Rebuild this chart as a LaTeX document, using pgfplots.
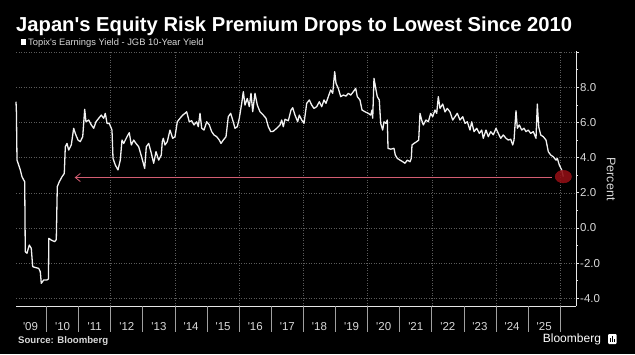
\documentclass[border=0pt]{standalone}
\usepackage{pgfplots}
\pgfplotsset{compat=1.18}
\usepackage{fontspec}
\setmainfont{Liberation Sans}[Ligatures=TeXOff]
\usetikzlibrary{arrows.meta}
\definecolor{axcol}{HTML}{E6E6E6}
\definecolor{labcol}{HTML}{D9D9D9}
\definecolor{gridcol}{HTML}{5C5C5C}
\definecolor{sepcol}{HTML}{A0A0A0}
\definecolor{linecol}{HTML}{F2F2F2}
\definecolor{arrcol}{HTML}{D45D72}
\definecolor{circcol}{HTML}{8E0E14}
\begin{document}
\begin{tikzpicture}
\fill[black] (0,0) rectangle (635pt,354pt);
\begin{axis}[
  at={(16pt,48pt)}, anchor=south west,
  width=560pt, height=254.7pt, scale only axis,
  xmin=2009.047, xmax=2026.492, ymin=-4.44, ymax=10.05,
  axis x line*=bottom, axis y line*=right,
  axis line style={draw=axcol, line width=0.8pt},
  clip=false,
  xtick={2009.5,2010.5,2011.5,2012.5,2013.5,2014.5,2015.5,2016.5,2017.5,2018.5,2019.5,2020.5,2021.5,2022.5,2023.5,2024.5,2025.5},
  xticklabels={'09,'10,'11,'12,'13,'14,'15,'16,'17,'18,'19,'20,'21,'22,'23,'24,'25},
  xtick style={draw=none},
  extra x ticks={2012,2014,2016,2018,2020,2022,2024,2026},
  extra x tick labels={},
  extra x tick style={grid=major, tick style={draw=none}},
  ytick={-4,-2,0,2,4,6,8,10},
  yticklabels={-4.0,-2.0,0.0,2.0,4.0,6.0,8.0,{}},
  minor ytick={-3,-1,1,3,5,7,9},
  ymajorgrids,
  grid style={gridcol, dash pattern=on 1pt off 1.5pt, line width=0.6pt},
  tick align=outside, major tick length=3.3pt, minor tick length=2pt,
  tick style={axcol, line width=0.8pt},
  xticklabel style={font=\fontsize{11.5}{12}\selectfont, text=labcol, anchor=base, yshift=-20.7pt},
  yticklabel style={font=\fontsize{11.5}{12}\selectfont, text=labcol, anchor=west, inner sep=0pt, xshift=0.7pt},
]
\pgfplotsinvokeforeach{2010,2011,2012,2013,2014,2015,2016,2017,2018,2019,2020,2021,2022,2023,2024,2025,2026}{
  \draw[sepcol, line width=0.8pt] (axis cs:#1,-4.44) -- ++(0pt,-26pt);
}
\addplot[only marks, mark=*, mark size=6.3pt, mark options={xscale=1.3, fill=circcol, draw=circcol, fill opacity=0.9}] coordinates {(2026.097,2.92)};
\addplot[arrcol, line width=0.9pt, -{Straight Barb[length=5pt,width=8pt,line width=0.8pt]}] coordinates {(2025.735,2.87) (2010.875,2.87)};
\addplot[linecol, line width=1.3pt, line join=round] table {
2009.047 7.18
2009.060 6.60
2009.078 3.86
2009.131 3.58
2009.181 3.30
2009.234 2.91
2009.318 2.63
2009.336 -1.35
2009.389 -1.44
2009.461 -0.97
2009.523 -1.16
2009.567 -2.20
2009.648 -2.25
2009.754 -2.30
2009.804 -2.49
2009.835 -3.15
2009.910 -2.96
2010.012 -2.96
2010.059 -2.90
2010.069 -0.59
2010.146 -0.69
2010.252 -0.78
2010.302 -0.66
2010.333 2.35
2010.396 2.63
2010.480 2.91
2010.551 3.10
2010.583 4.62
2010.636 4.81
2010.688 4.43
2010.769 4.72
2010.844 5.67
2010.894 5.38
2010.978 5.00
2011.050 4.91
2011.125 5.19
2011.187 6.75
2011.227 6.04
2011.312 6.14
2011.393 5.86
2011.467 5.67
2011.539 6.04
2011.623 6.24
2011.704 6.42
2011.779 6.24
2011.829 6.52
2011.882 5.95
2011.953 5.95
2012.037 5.57
2012.069 3.96
2012.140 3.58
2012.224 3.30
2012.296 3.86
2012.349 5.00
2012.402 4.81
2012.505 5.19
2012.576 5.42
2012.639 4.72
2012.713 5.00
2012.785 4.81
2012.869 4.62
2012.972 3.96
2013.056 3.39
2013.106 4.62
2013.181 4.81
2013.262 4.25
2013.336 3.68
2013.408 4.34
2013.492 3.86
2013.573 4.15
2013.604 4.91
2013.636 5.10
2013.688 4.72
2013.760 4.91
2013.844 5.57
2013.928 5.10
2014.000 5.19
2014.072 6.04
2014.156 6.24
2014.240 6.42
2014.312 6.52
2014.364 6.61
2014.445 6.04
2014.520 6.10
2014.592 5.86
2014.676 6.04
2014.726 5.76
2014.779 6.52
2014.832 5.67
2014.903 5.57
2014.988 6.04
2015.069 5.86
2015.143 5.48
2015.215 5.29
2015.299 5.19
2015.380 5.00
2015.433 4.81
2015.505 5.00
2015.589 5.19
2015.660 6.33
2015.735 6.52
2015.798 6.14
2015.869 5.67
2015.941 5.76
2016.003 6.24
2016.078 7.09
2016.128 7.75
2016.181 6.99
2016.252 7.37
2016.315 6.90
2016.368 7.66
2016.421 6.61
2016.492 7.66
2016.564 6.99
2016.648 6.61
2016.751 6.42
2016.835 6.24
2016.907 5.76
2016.981 5.48
2017.062 5.50
2017.168 5.67
2017.271 5.86
2017.324 6.14
2017.374 5.76
2017.427 6.18
2017.530 6.10
2017.614 6.71
2017.667 6.84
2017.738 6.42
2017.822 6.04
2017.872 6.42
2017.947 6.14
2018.019 5.95
2018.103 7.09
2018.184 7.28
2018.259 6.99
2018.330 6.80
2018.414 6.90
2018.495 7.18
2018.570 6.90
2018.642 7.28
2018.704 7.09
2018.776 7.47
2018.850 7.85
2018.913 7.66
2018.975 8.89
2019.016 8.23
2019.087 7.94
2019.162 7.47
2019.243 7.56
2019.327 7.50
2019.399 7.66
2019.474 7.56
2019.555 7.75
2019.629 7.94
2019.679 7.47
2019.763 7.28
2019.826 6.71
2019.919 6.61
2020.022 6.52
2020.097 6.42
2020.137 6.71
2020.159 6.24
2020.199 8.51
2020.262 7.85
2020.302 7.47
2020.364 7.28
2020.408 5.95
2020.470 5.57
2020.511 6.04
2020.573 5.95
2020.614 6.14
2020.636 4.53
2020.720 4.48
2020.822 4.53
2020.863 4.15
2020.925 3.96
2021.009 3.86
2021.093 3.77
2021.165 3.68
2021.237 3.86
2021.321 3.77
2021.361 3.96
2021.383 4.72
2021.445 4.81
2021.530 4.91
2021.592 5.00
2021.632 6.52
2021.685 6.14
2021.735 5.86
2021.819 6.14
2021.891 6.04
2021.966 6.52
2022.028 6.33
2022.100 6.71
2022.153 6.52
2022.202 7.47
2022.255 6.80
2022.340 7.05
2022.411 6.60
2022.483 6.80
2022.567 6.60
2022.651 6.14
2022.723 6.33
2022.794 6.52
2022.879 6.14
2022.963 6.33
2023.034 5.95
2023.106 6.04
2023.190 5.57
2023.243 6.04
2023.315 5.48
2023.399 5.67
2023.480 5.38
2023.555 5.57
2023.604 5.10
2023.688 5.57
2023.760 5.19
2023.835 5.48
2023.916 5.30
2024.000 5.67
2024.072 5.38
2024.146 5.10
2024.227 5.29
2024.312 5.10
2024.383 5.00
2024.458 5.05
2024.520 4.72
2024.561 5.00
2024.623 6.67
2024.664 5.67
2024.726 5.86
2024.801 5.57
2024.872 5.67
2024.935 5.48
2025.006 5.57
2025.081 5.38
2025.162 5.48
2025.246 5.10
2025.287 7.05
2025.330 5.76
2025.393 5.29
2025.474 5.19
2025.558 5.00
2025.629 4.34
2025.704 4.15
2025.785 4.05
2025.869 3.86
2025.910 3.96
2025.972 3.58
2026.047 3.30
2026.097 2.92
};
\end{axis}
% title, legend and footer
\node[anchor=base west, inner sep=0pt, text=white, font=\fontsize{20.2}{22}\selectfont\bfseries] at (16pt,322.4pt) {Japan's Equity Risk Premium Drops to Lowest Since 2010};
\fill[white] (21pt,308.7pt) rectangle (25.7pt,314.7pt);
\node[anchor=base west, inner sep=0pt, text=labcol, font=\fontsize{9.35}{10}\selectfont] at (28pt,308pt) {Topix's Earnings Yield - JGB 10-Year Yield};
\node[rotate=-90, inner sep=0pt, text=labcol, font=\fontsize{12.5}{13}\selectfont] at (611pt,175pt) {Percent};
\node[anchor=base west, inner sep=0pt, text=labcol, font=\fontsize{9.6}{10}\selectfont\bfseries] at (18pt,10.5pt) {Source: Bloomberg};
\node[anchor=base west, inner sep=0pt, text=white, font=\fontsize{12}{13}\selectfont] at (542.7pt,11.3pt) {Bloomberg};
\fill[white, rounded corners=1pt] (608pt,10pt) rectangle (616.7pt,20pt);
\fill[black] (610pt,12pt) rectangle (611pt,16pt);
\fill[black] (612pt,12pt) rectangle (613pt,18pt);
\fill[black] (614pt,12pt) rectangle (615pt,15pt);
\pgfresetboundingbox
\useasboundingbox (0,0) rectangle (635pt,354pt);
\end{tikzpicture}
\end{document}
